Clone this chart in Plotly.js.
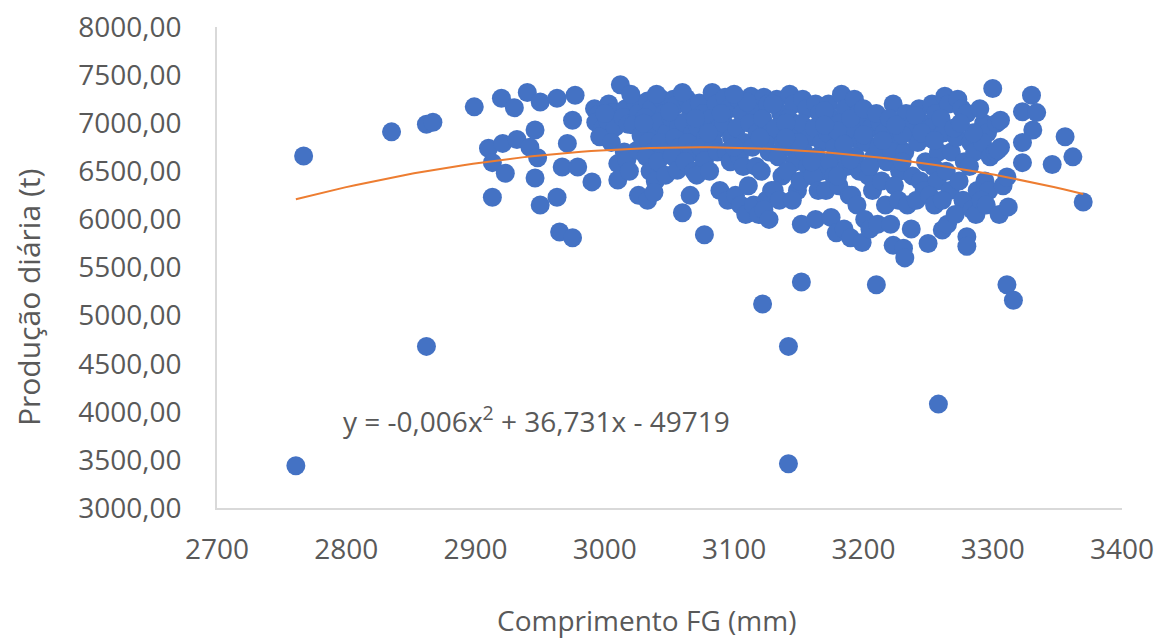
<!DOCTYPE html>
<html><head><meta charset="utf-8">
<script src="https://cdn.plot.ly/plotly-3.0.1.min.js"></script>
<style>html,body{margin:0;padding:0;background:#fff;} #chart{width:1159px;height:641px;}</style>
</head><body><div id="chart"></div>
<script>
// Comprimento FG (mm) for each day
const comprimento = [
  2761, 2767, 2835, 2862, 2867, 2862, 2899, 2920, 2930, 2940,
  2950, 2963, 2977, 2975, 2946, 2910, 2921, 2932, 2942, 2948,
  2971, 2913, 2923, 2946, 2967, 2979, 2990, 2913, 2950, 2963,
  2965, 2975,
  2992, 2995, 2993, 2998, 2996, 3003, 3006, 3002, 3008, 3005,
  3010, 3010, 3012, 3016, 3014, 3018, 3015, 3017, 3019, 3024,
  3026, 3022, 3028, 3025, 3026, 3033, 3036, 3031, 3038, 3034,
  3037, 3032, 3035, 3039, 3033, 3038, 3044, 3046, 3042, 3048,
  3043, 3046, 3041, 3047, 3053, 3055, 3051, 3057, 3054, 3058,
  3052, 3056,
  3063, 3066, 3061, 3068, 3064, 3067, 3062, 3069, 3066, 3060,
  3073, 3076, 3072, 3078, 3074, 3077, 3071, 3077, 3083, 3086,
  3082, 3088, 3084, 3087, 3081, 3089, 3093, 3096, 3092, 3098,
  3094, 3097, 3095, 3103, 3106, 3102, 3108, 3104, 3107, 3101,
  3105, 3109, 3113, 3116, 3112, 3118, 3114, 3117, 3111, 3115,
  3119, 3123, 3126, 3122, 3128, 3124, 3127, 3121, 3129, 3125,
  3123, 3127, 3122,
  3133, 3136, 3132, 3138, 3134, 3137, 3131, 3135, 3143, 3146,
  3142, 3148, 3144, 3147, 3141, 3149, 3145, 3142, 3142, 3153,
  3156, 3152, 3158, 3154, 3157, 3151, 3152, 3152, 3163, 3166,
  3162, 3168, 3164, 3167, 3161, 3165, 3163, 3173, 3176, 3172,
  3178, 3174, 3177, 3171, 3175, 3179, 3183, 3186, 3182, 3188,
  3184, 3187, 3181, 3189, 3185, 3190, 3193, 3196, 3192, 3198,
  3194, 3197, 3191, 3195, 3199,
  3203, 3206, 3202, 3208, 3204, 3207, 3201, 3205, 3210, 3213,
  3216, 3212, 3218, 3214, 3217, 3211, 3223, 3226, 3222, 3228,
  3224, 3227, 3221, 3223, 3233, 3236, 3232, 3238, 3234, 3237,
  3231, 3232, 3243, 3246, 3242, 3248, 3244, 3247, 3241, 3253,
  3256, 3252, 3258, 3254, 3257, 3251, 3255, 3261, 3250, 3258,
  3263, 3266, 3262, 3268, 3264, 3267, 3261, 3265,
  3273, 3276, 3272, 3278, 3274, 3277, 3271, 3280, 3280, 3283,
  3286, 3282, 3288, 3284, 3287, 3293, 3296, 3292, 3298, 3294,
  3297, 3291, 3295, 3300, 3303, 3306, 3302, 3308, 3305, 3311,
  3312, 3311, 3316, 3330, 3323, 3334, 3331, 3323, 3323, 3356,
  3362, 3346, 3370,
  3170, 3180, 3190, 3200, 3210, 3220, 3230, 3240, 3200, 3215,
  3250, 3260, 3270, 3280, 3285, 3245, 3190, 3205, 3230, 3180,
  3160, 3140, 3150, 3130, 3110, 3090, 3070, 3050, 3030, 3020,
  3040, 3060, 3100, 3000, 3080, 3100, 3120, 3140, 3170, 3185,
  3306, 3304, 3290, 3275, 3255, 3225
];
// Produção diária (t) for each day
const producao = [
  3440, 6660, 6910, 6990, 7010, 4680, 7170, 7260, 7160, 7320,
  7220, 7260, 7290, 7030, 6930, 6740, 6790, 6830, 6750, 6640,
  6790, 6590, 6480, 6430, 6545, 6545, 6390, 6230, 6150, 6230,
  5870, 5810,
  7150, 7090, 7010, 6940, 6860, 7200, 7110, 7030, 6960, 6800,
  6580, 6410, 7400, 7150, 7060, 6990, 6700, 6620, 6500, 7210,
  7100, 6980, 6870, 6720, 6250, 7230, 7150, 7060, 6950, 6810,
  6700, 6650, 6500, 6400, 6200, 6280, 7250, 7100, 7010, 6900,
  6800, 6700, 6600, 6460, 7250, 7190, 7060, 6960, 6850, 6750,
  6660, 6510,
  7260, 7150, 7010, 6900, 6800, 6700, 6600, 6500, 6250, 6070,
  7210, 7100, 6960, 6850, 6750, 6610, 6460, 5840, 7320, 7200,
  7050, 6950, 6800, 6700, 6500, 6300, 7270, 7150, 7000, 6850,
  6700, 6600, 6200, 7250, 7100, 6950, 6800, 6650, 6550, 6250,
  6150, 6050, 7280, 7150, 7000, 6900, 6750, 6550, 6350, 6150,
  6050, 7270, 7200, 7050, 6900, 6800, 6700, 6500, 6300, 6200,
  6100, 6000, 5120,
  7250, 7100, 6950, 6800, 6650, 6450, 6300, 6200, 7300, 7200,
  7050, 6900, 6750, 6600, 6500, 6300, 6200, 4680, 3460, 7250,
  7150, 7000, 6850, 6700, 6550, 6400, 5950, 5350, 7200, 7100,
  6950, 6800, 6650, 6500, 6450, 6300, 6000, 7200, 7050, 6900,
  6750, 6600, 6450, 6300, 6020, 5860, 7300, 7150, 7000, 6850,
  6700, 6550, 6350, 6250, 5900, 5810, 7250, 7100, 6950, 6800,
  6650, 6500, 6250, 6150, 5760,
  7050, 6950, 6800, 6650, 6450, 6300, 6000, 5900, 5320, 7000,
  6900, 6750, 6600, 6400, 6150, 5950, 7200, 6850, 6700, 6500,
  6350, 6200, 5950, 5730, 7100, 6950, 6700, 6450, 6150, 5900,
  5700, 5600, 7150, 7000, 6800, 6600, 6400, 6300, 6200, 7200,
  7100, 6950, 6700, 6550, 6400, 6250, 6150, 5890, 5750, 4080,
  7280, 7200, 6900, 6700, 6500, 6300, 6200, 5950,
  7250, 7150, 6850, 6600, 6400, 6200, 6050, 5820, 5720, 6800,
  6700, 6550, 6300, 6100, 6050, 7000, 6900, 6800, 6650, 6400,
  6300, 6200, 6150, 7360, 7000, 6750, 6700, 6350, 6050, 6440,
  6130, 5320, 5160, 7290, 7120, 7110, 6930, 6800, 6590, 6860,
  6650, 6570, 6180,
  7130, 6920, 7050, 7150, 7100, 7050, 6880, 7080, 6880, 6820,
  6850, 7050, 6950, 7100, 6900, 6900, 6620, 6550, 6600, 6450,
  6600, 7000, 6800, 7200, 7220, 7100, 7050, 7120, 7000, 7300,
  7300, 7320, 7300, 7100, 6900, 6750, 6850, 6850, 6980, 6780,
  7030, 6720, 7150, 7000, 6820, 6980
];

const xTickVals = [2700, 2800, 2900, 3000, 3100, 3200, 3300, 3400];
const yTickVals = [3000, 3500, 4000, 4500, 5000, 5500, 6000, 6500, 7000, 7500, 8000];
const equationText = 'y = -0,006x<sup>2</sup> + 36,731x - 49719';
const xTitleText = 'Comprimento FG (mm)';
const yTitleText = 'Produção diária (t)';

// Polynomial (order 2) least-squares trendline fitted on the data, as Excel does
function quadFit(xs, ys) {
  const n = xs.length;
  const mx = xs.reduce((s, v) => s + v, 0) / n;
  let S = [0, 0, 0, 0, 0], T = [0, 0, 0];
  for (let i = 0; i < n; i++) {
    const u = xs[i] - mx;
    let p = 1;
    for (let k = 0; k <= 4; k++) { S[k] += p; if (k <= 2) T[k] += p * ys[i]; p *= u; }
  }
  const A = [[S[4], S[3], S[2], T[2]], [S[3], S[2], S[1], T[1]], [S[2], S[1], S[0], T[0]]];
  for (let c = 0; c < 3; c++) {
    for (let r = c + 1; r < 3; r++) {
      const f = A[r][c] / A[c][c];
      for (let k = c; k < 4; k++) A[r][k] -= f * A[c][k];
    }
  }
  const sol = [0, 0, 0];
  for (let r = 2; r >= 0; r--) {
    let s = A[r][3];
    for (let k = r + 1; k < 3; k++) s -= A[r][k] * sol[k];
    sol[r] = s / A[r][r];
  }
  return x => { const u = x - mx; return sol[0] * u * u + sol[1] * u + sol[2]; };
}
const fit = quadFit(comprimento, producao);
const xMin = Math.min(...comprimento), xMax = Math.max(...comprimento);
const trendX = [], trendY = [];
for (let i = 0; i <= 80; i++) { const x = xMin + (xMax - xMin) * i / 80; trendX.push(x); trendY.push(fit(x)); }

const FONT = 'Open Sans, sans-serif';
const GREY = '#595959';

const data = [
  { type: 'scatter', mode: 'markers', x: comprimento, y: producao,
    marker: { color: '#4472C4', size: 19, line: { width: 0 } }, hoverinfo: 'x+y' },
  { type: 'scatter', mode: 'lines', x: trendX, y: trendY,
    line: { color: '#ED7D31', width: 2 }, hoverinfo: 'skip' }
];

const layout = {
  width: 1159, height: 641,
  margin: { l: 217, r: 37, t: 27, b: 133, pad: 0 },
  paper_bgcolor: '#ffffff', plot_bgcolor: '#ffffff',
  showlegend: false,
  separators: ',.',
  font: { family: FONT, size: 28, color: GREY },
  xaxis: {
    range: [2700, 3400], tickmode: 'array', tickvals: xTickVals, tickformat: 'd',
    showgrid: false, zeroline: false, showline: true, linecolor: '#d9d9d9', linewidth: 1.5,
    ticks: '', ticklabelstandoff: 16,
    tickfont: { family: FONT, size: 28, color: GREY }
  },
  yaxis: {
    range: [3000, 8000], tickmode: 'array', tickvals: yTickVals, tickformat: '.2f',
    showgrid: false, zeroline: false, showline: true, linecolor: '#d9d9d9', linewidth: 1.5,
    ticks: '', ticklabelstandoff: 28,
    tickfont: { family: FONT, size: 28, color: GREY }
  },
  annotations: [
    { text: equationText, xref: 'x', yref: 'y', x: 2947, y: 3915, showarrow: false,
      xanchor: 'center', yanchor: 'middle', font: { family: FONT, size: 28, color: GREY } },
    { text: xTitleText, xref: 'paper', yref: 'paper', x: (646 - 217) / 905, y: -(620 - 508) / 481,
      showarrow: false, xanchor: 'center', yanchor: 'middle', font: { family: FONT, size: 28, color: GREY } },
    { text: yTitleText, xref: 'paper', yref: 'paper', x: (28 - 217) / 905, y: 1 - (298 - 27) / 481,
      textangle: -90, showarrow: false, xanchor: 'center', yanchor: 'middle',
      font: { family: FONT, size: 30, color: GREY } }
  ]
};

Plotly.newPlot('chart', data, layout, { displayModeBar: false, responsive: false });
</script>
</body></html>
